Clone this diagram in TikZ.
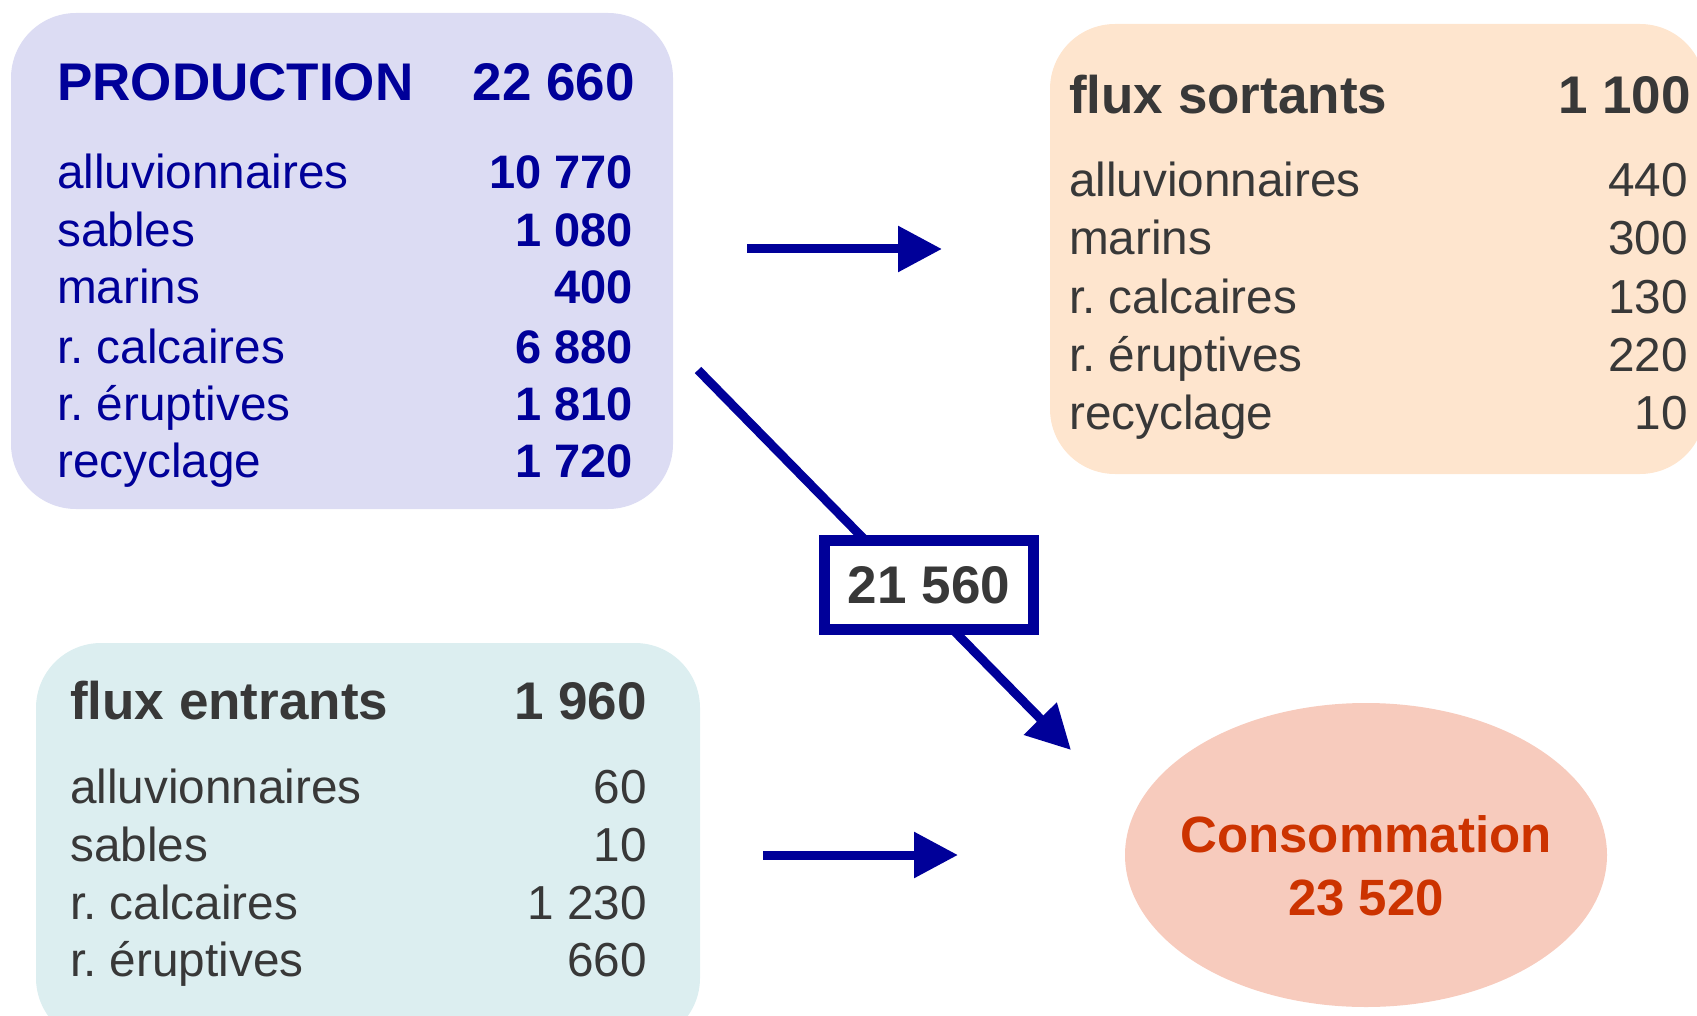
\documentclass[tikz,border=0pt]{standalone}
\usepackage{fontspec}
\setmainfont{Liberation Sans}
\frenchspacing
\usetikzlibrary{arrows.meta,shapes.geometric}
\definecolor{navy}{HTML}{000099}
\definecolor{prodfill}{HTML}{DCDCF3}
\definecolor{outfill}{HTML}{FEE5CE}
\definecolor{infill}{HTML}{DCEEF0}
\definecolor{consfill}{HTML}{F7CBBD}
\definecolor{txtgray}{HTML}{383838}
\definecolor{consred}{HTML}{CC3300}
\tikzset{
  x=1pt, y=-1pt,
  panel/.style={rounded corners=65pt, inner sep=0pt},
  lt/.style={anchor=base west, inner sep=0pt},
  rt/.style={anchor=base east, inner sep=0pt},
  body/.style={font=\fontsize{47.7}{56}\selectfont},
  head/.style={font=\fontsize{53}{62}\selectfont\bfseries},
  bbody/.style={font=\fontsize{47}{56}\selectfont\bfseries},
  arr/.style={draw=navy, line width=9pt, -{Triangle[length=44pt, width=44pt]}},
}
\begin{document}
\begin{tikzpicture}
\useasboundingbox (0,0) rectangle (1697,1016);
\clip (0,0) rectangle (1697,1016);
% panels
\node[panel, fill=prodfill, minimum width=662pt, minimum height=496pt] (prod) at (342,261) {};
\node[panel, fill=outfill, minimum width=655pt, minimum height=450pt] (out) at (1377.5,249) {};
\node[panel, fill=infill, minimum width=664pt, minimum height=400pt] (in) at (368,843) {};
\node[ellipse, fill=consfill, minimum width=482pt, minimum height=304pt, inner sep=0pt] (cons) at (1366,855) {};
% production text
\node[lt, head, text=navy] (p0) at (57,101) {PRODUCTION};
\node[rt, head, text=navy] (p0v) at (635,101) {22 660};
\node[lt, body, text=navy] (p1) at (57,189) {alluvionnaires};
\node[rt, bbody, text=navy] (p1v) at (633,189) {10 770};
\node[lt, body, text=navy] (p2) at (57,247) {sables};
\node[rt, bbody, text=navy] (p2v) at (633,247) {1 080};
\node[lt, body, text=navy] (p3) at (57,304) {marins};
\node[rt, bbody, text=navy] (p3v) at (633,304) {400};
\node[lt, body, text=navy] (p4) at (57,363) {r. calcaires};
\node[rt, bbody, text=navy] (p4v) at (633,363) {6 880};
\node[lt, body, text=navy] (p5) at (57,420) {r. éruptives};
\node[rt, bbody, text=navy] (p5v) at (633,420) {1 810};
\node[lt, body, text=navy] (p6) at (57,477) {recyclage};
\node[rt, bbody, text=navy] (p6v) at (633,477) {1 720};
% flux sortants text
\node[lt, head, text=txtgray] (o0) at (1069,114) {flux sortants};
\node[rt, head, text=txtgray] (o0v) at (1691,114) {1 100};
\node[lt, body, text=txtgray] (o1) at (1069,197) {alluvionnaires};
\node[rt, body, text=txtgray] (o1v) at (1688,197) {440};
\node[lt, body, text=txtgray] (o2) at (1069,255) {marins};
\node[rt, body, text=txtgray] (o2v) at (1688,255) {300};
\node[lt, body, text=txtgray] (o3) at (1069,313) {r. calcaires};
\node[rt, body, text=txtgray] (o3v) at (1688,313) {130};
\node[lt, body, text=txtgray] (o4) at (1069,371) {r. éruptives};
\node[rt, body, text=txtgray] (o4v) at (1688,371) {220};
\node[lt, body, text=txtgray] (o5) at (1069,429) {recyclage};
\node[rt, body, text=txtgray] (o5v) at (1688,429) {10};
% flux entrants text
\node[lt, head, text=txtgray] (i0) at (70,719) {flux entrants};
\node[rt, head, text=txtgray] (i0v) at (647,719) {1 960};
\node[lt, body, text=txtgray] (i1) at (70,803) {alluvionnaires};
\node[rt, body, text=txtgray] (i1v) at (647,803) {60};
\node[lt, body, text=txtgray] (i2) at (70,861) {sables};
\node[rt, body, text=txtgray] (i2v) at (647,861) {10};
\node[lt, body, text=txtgray] (i3) at (70,919) {r. calcaires};
\node[rt, body, text=txtgray] (i3v) at (647,919) {1 230};
\node[lt, body, text=txtgray] (i4) at (70,976) {r. éruptives};
\node[rt, body, text=txtgray] (i4v) at (647,976) {660};
% consommation text
\node[anchor=base, inner sep=0pt, font=\fontsize{51}{60}\selectfont\bfseries, text=consred] (c1) at (1366,852) {Consommation};
\node[anchor=base, inner sep=0pt, font=\fontsize{51}{60}\selectfont\bfseries, text=consred] (c2) at (1366,915) {23 520};
% arrows
\coordinate (a1s) at (747,249);
\coordinate (a1e) at (942,249);
\coordinate (a2s) at (763,855);
\coordinate (a2e) at (958,855);
\coordinate (d1) at (698,370);
\coordinate (d2) at (1071,750);
\draw[arr] (a1s) -- (a1e);
\draw[arr] (a2s) -- (a2e);
\draw[arr] (d1) -- (d2);
\node[draw=navy, line width=11pt, fill=white, minimum width=209pt, minimum height=89pt, inner sep=0pt, font=\fontsize{53}{62}\selectfont\bfseries, text=txtgray] (lab) at (929,585) {21 560};
\end{tikzpicture}
\end{document}
